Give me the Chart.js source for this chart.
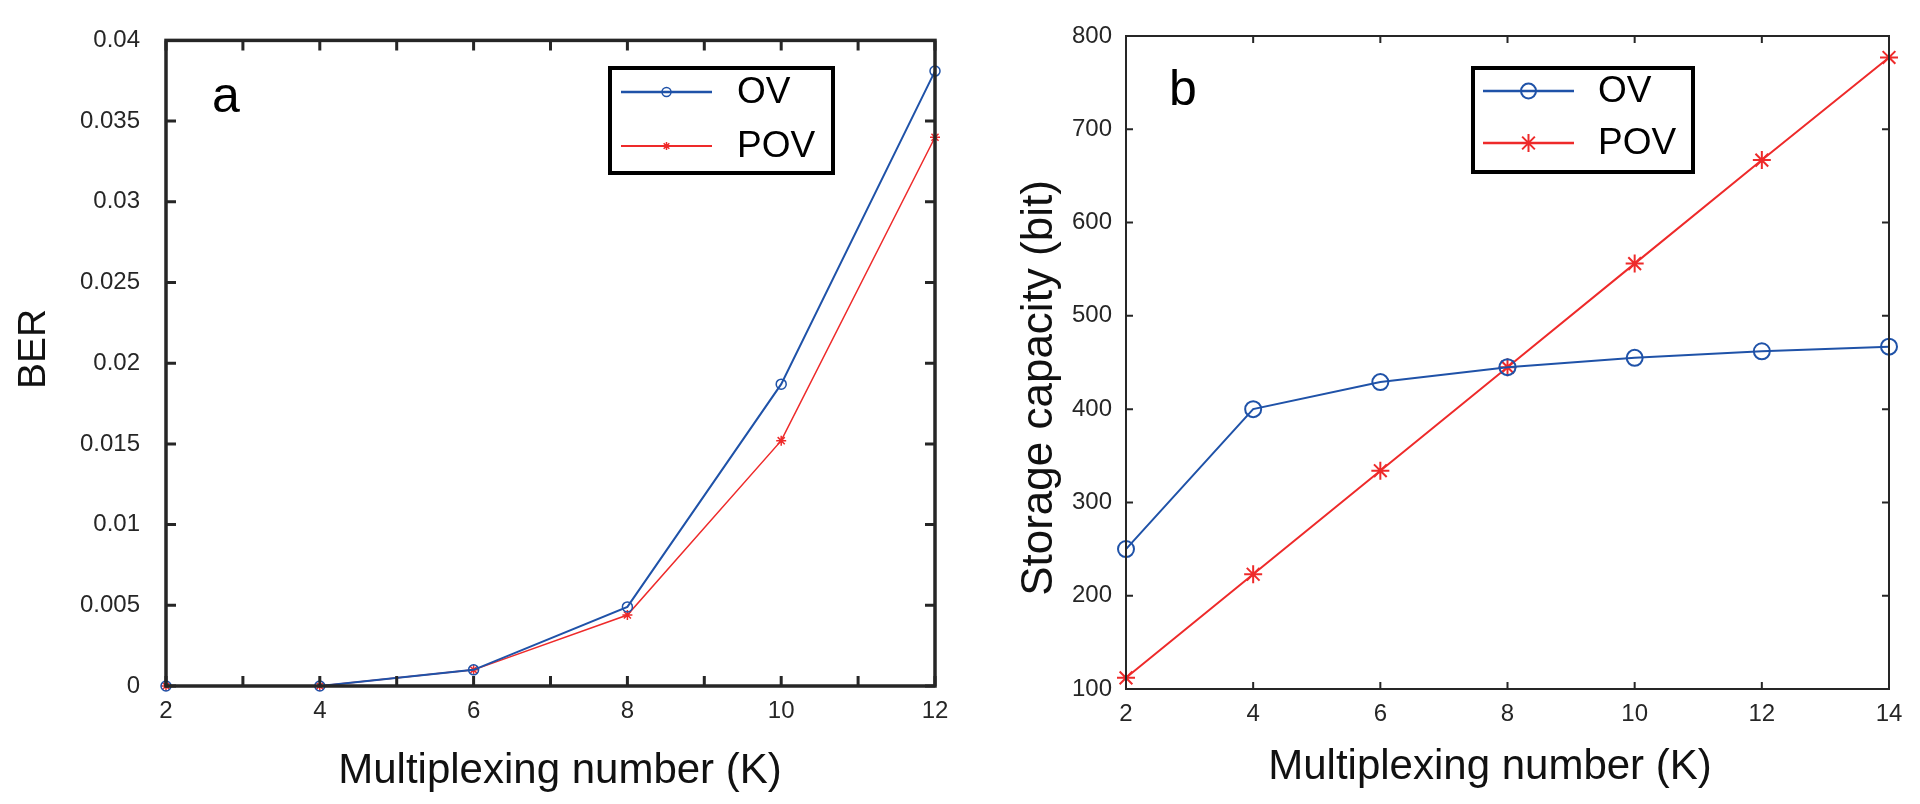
<!DOCTYPE html>
<html>
<head>
<meta charset="utf-8">
<script src="https://cdn.jsdelivr.net/npm/chart.js@4.4.1/dist/chart.umd.min.js"></script>
<style>
  html, body { margin: 0; padding: 0; background: #fff; }
  #wrap { position: relative; width: 1920px; height: 804px; }
  canvas { position: absolute; top: 0; }
</style>
</head>
<body>
<div id="wrap">
  <canvas id="berChart" width="960" height="804" style="left:0"></canvas>
  <canvas id="capChart" width="960" height="804" style="left:960px"></canvas>
</div>
<script>
// panel a: BER vs multiplexing number
const kA = [2, 4, 6, 8, 10, 12];
const berOV = [0, 0, 0.001, 0.0049, 0.0187, 0.0381];
const berPOV = [0, 0, 0.001, 0.0044, 0.0152, 0.034];

// panel b: storage capacity vs multiplexing number
const kB = [2, 4, 6, 8, 10, 12, 14];
const capOV = [250, 400, 429, 445, 455, 462, 467];
const capPOV = [112, 223, 334, 445, 556, 667, 777];

const seriesNames = ['OV', 'POV'];
const xTitle = 'Multiplexing number (K)';
const blue = '#1f52a8';
const red = '#ee2a2a';
const ink = '#262626';
const FONT = '"Liberation Sans", Arial, sans-serif';

const toPoints = (xs, ys) => xs.map((x, i) => ({ x: x, y: ys[i] }));

function drawMarker(ctx, style, x, y, r, w, color) {
    ctx.save();
    ctx.strokeStyle = color;
    ctx.lineWidth = w;
    ctx.beginPath();
    if (style === 'circle') {
        ctx.arc(x, y, r, 0, Math.PI * 2);
    } else {
        for (let k = 0; k < 4; k++) {
            const ang = k * Math.PI / 4;
            ctx.moveTo(x - r * Math.cos(ang), y - r * Math.sin(ang));
            ctx.lineTo(x + r * Math.cos(ang), y + r * Math.sin(ang));
        }
    }
    ctx.stroke();
    ctx.restore();
}

// matlab style box, inward ticks, axis titles, panel letter and framed legend
const boxPlugin = {
    id: 'boxAxes',
    afterDraw(chart, args, o) {
        const ctx = chart.ctx;
        const a = chart.chartArea;
        const xs = chart.scales.x, ys = chart.scales.y;
        ctx.save();
        ctx.strokeStyle = ink;
        ctx.lineWidth = o.tickWidth;
        ctx.beginPath();
        xs.ticks.forEach(t => {
            const px = xs.getPixelForValue(t.value);
            ctx.moveTo(px, a.bottom); ctx.lineTo(px, a.bottom - o.tickLen);
            ctx.moveTo(px, a.top); ctx.lineTo(px, a.top + o.tickLen);
        });
        ys.ticks.forEach(t => {
            const py = ys.getPixelForValue(t.value);
            ctx.moveTo(a.left, py); ctx.lineTo(a.left + o.tickLen, py);
            ctx.moveTo(a.right, py); ctx.lineTo(a.right - o.tickLen, py);
        });
        ctx.stroke();
        ctx.lineWidth = o.frameWidth;
        ctx.strokeRect(a.left, a.top, a.width, a.height);

        // axis titles
        ctx.fillStyle = '#111';
        ctx.textAlign = 'center';
        ctx.textBaseline = 'alphabetic';
        ctx.font = o.xTitle.size + 'px ' + FONT;
        ctx.fillText(o.xTitle.text, o.xTitle.x, o.xTitle.y);
        ctx.save();
        ctx.translate(o.yTitle.x, o.yTitle.y);
        ctx.rotate(-Math.PI / 2);
        ctx.font = o.yTitle.size + 'px ' + FONT;
        ctx.fillText(o.yTitle.text, 0, 0);
        ctx.restore();

        ctx.fillStyle = '#000';
        ctx.font = '50px ' + FONT;
        ctx.textAlign = 'left';
        ctx.fillText(o.letter, o.letterX, o.letterY);

        const L = o.legend;
        ctx.fillStyle = '#fff';
        ctx.fillRect(L.left, L.top, L.right - L.left, L.bottom - L.top);
        ctx.strokeStyle = '#000';
        ctx.lineWidth = 4;
        ctx.strokeRect(L.left, L.top, L.right - L.left, L.bottom - L.top);
        chart.data.datasets.forEach((ds, i) => {
            const y = L.rows[i];
            ctx.strokeStyle = ds.borderColor;
            ctx.lineWidth = ds.borderWidth + 0.5;
            ctx.beginPath();
            ctx.moveTo(L.lineX1, y);
            ctx.lineTo(L.lineX2, y);
            ctx.stroke();
            drawMarker(ctx, ds.pointStyle, (L.lineX1 + L.lineX2) / 2, y, L.markerR[i], ds.pointBorderWidth, ds.borderColor);
            ctx.fillStyle = '#000';
            ctx.font = '37px ' + FONT;
            ctx.textBaseline = 'middle';
            ctx.fillText(ds.label, L.textX, y + 1);
        });
        ctx.restore();
    }
};

function makeDataset(name, pts, color, style, lw, r, bw) {
    return {
        label: name,
        data: pts,
        borderColor: color,
        backgroundColor: color,
        borderWidth: lw,
        pointStyle: style,
        pointRadius: r,
        pointHoverRadius: r,
        pointBorderColor: color,
        pointBackgroundColor: 'rgba(0,0,0,0)',
        pointBorderWidth: bw,
        tension: 0,
        clip: false
    };
}

const berChart = new Chart(document.getElementById('berChart').getContext('2d'), {
    type: 'line',
    data: {
        datasets: [
            makeDataset(seriesNames[0], toPoints(kA, berOV), blue, 'circle', 2, 5, 1.5),
            makeDataset(seriesNames[1], toPoints(kA, berPOV), red, 'star', 1.5, 5, 1.5)
        ]
    },
    options: {
        responsive: false,
        animation: false,
        layout: { padding: { left: 0, right: 25, top: 35, bottom: 0 } },
        plugins: {
            legend: { display: false },
            tooltip: { enabled: false },
            boxAxes: {
                tickLen: 10, tickWidth: 3, frameWidth: 3.5,
                letter: 'a', letterX: 212, letterY: 112,
                xTitle: { text: xTitle, x: 560, y: 783, size: 42 },
                yTitle: { text: 'BER', x: 45, y: 349, size: 39 },
                legend: {
                    left: 610, right: 833, top: 68, bottom: 173,
                    lineX1: 621, lineX2: 712, textX: 737,
                    rows: [92, 146], markerR: [4.5, 4]
                }
            }
        },
        scales: {
            x: {
                type: 'linear', min: 2, max: 12,
                afterFit: s => { s.height = 118; },
                grid: { display: false, drawTicks: false },
                border: { display: false },
                ticks: {
                    stepSize: 1, padding: 11, color: ink, maxRotation: 0, autoSkip: false,
                    font: { family: FONT, size: 24 },
                    callback: v => (v % 2 === 0 ? String(v) : '')
                }
            },
            y: {
                min: 0, max: 0.04,
                afterFit: s => { s.width = 166; },
                grid: { display: false, drawTicks: false },
                border: { display: false },
                ticks: {
                    stepSize: 0.005, padding: 26, color: ink,
                    font: { family: FONT, size: 24 },
                    callback: v => String(+v.toFixed(3))
                }
            }
        }
    },
    plugins: [boxPlugin]
});

const capChart = new Chart(document.getElementById('capChart').getContext('2d'), {
    type: 'line',
    data: {
        datasets: [
            makeDataset(seriesNames[0], toPoints(kB, capOV), blue, 'circle', 2, 8, 2),
            makeDataset(seriesNames[1], toPoints(kB, capPOV), red, 'star', 2, 9, 2)
        ]
    },
    options: {
        responsive: false,
        animation: false,
        layout: { padding: { left: 0, right: 31, top: 36, bottom: 0 } },
        plugins: {
            legend: { display: false },
            tooltip: { enabled: false },
            boxAxes: {
                tickLen: 7, tickWidth: 2, frameWidth: 2,
                letter: 'b', letterX: 209, letterY: 105,
                xTitle: { text: xTitle, x: 530, y: 779, size: 42 },
                yTitle: { text: 'Storage capacity (bit)', x: 92, y: 388, size: 44 },
                legend: {
                    left: 513, right: 733, top: 68, bottom: 172,
                    lineX1: 523, lineX2: 614, textX: 638,
                    rows: [91, 143], markerR: [7.5, 9]
                }
            }
        },
        scales: {
            x: {
                type: 'linear', min: 2, max: 14,
                afterFit: s => { s.height = 115; },
                grid: { display: false, drawTicks: false },
                border: { display: false },
                ticks: {
                    stepSize: 2, padding: 11, color: ink, maxRotation: 0, autoSkip: false,
                    font: { family: FONT, size: 24 }
                }
            },
            y: {
                min: 100, max: 800,
                afterFit: s => { s.width = 166; },
                grid: { display: false, drawTicks: false },
                border: { display: false },
                ticks: {
                    stepSize: 100, padding: 14, color: ink,
                    font: { family: FONT, size: 24 }
                }
            }
        }
    },
    plugins: [boxPlugin]
});
</script>
</body>
</html>
